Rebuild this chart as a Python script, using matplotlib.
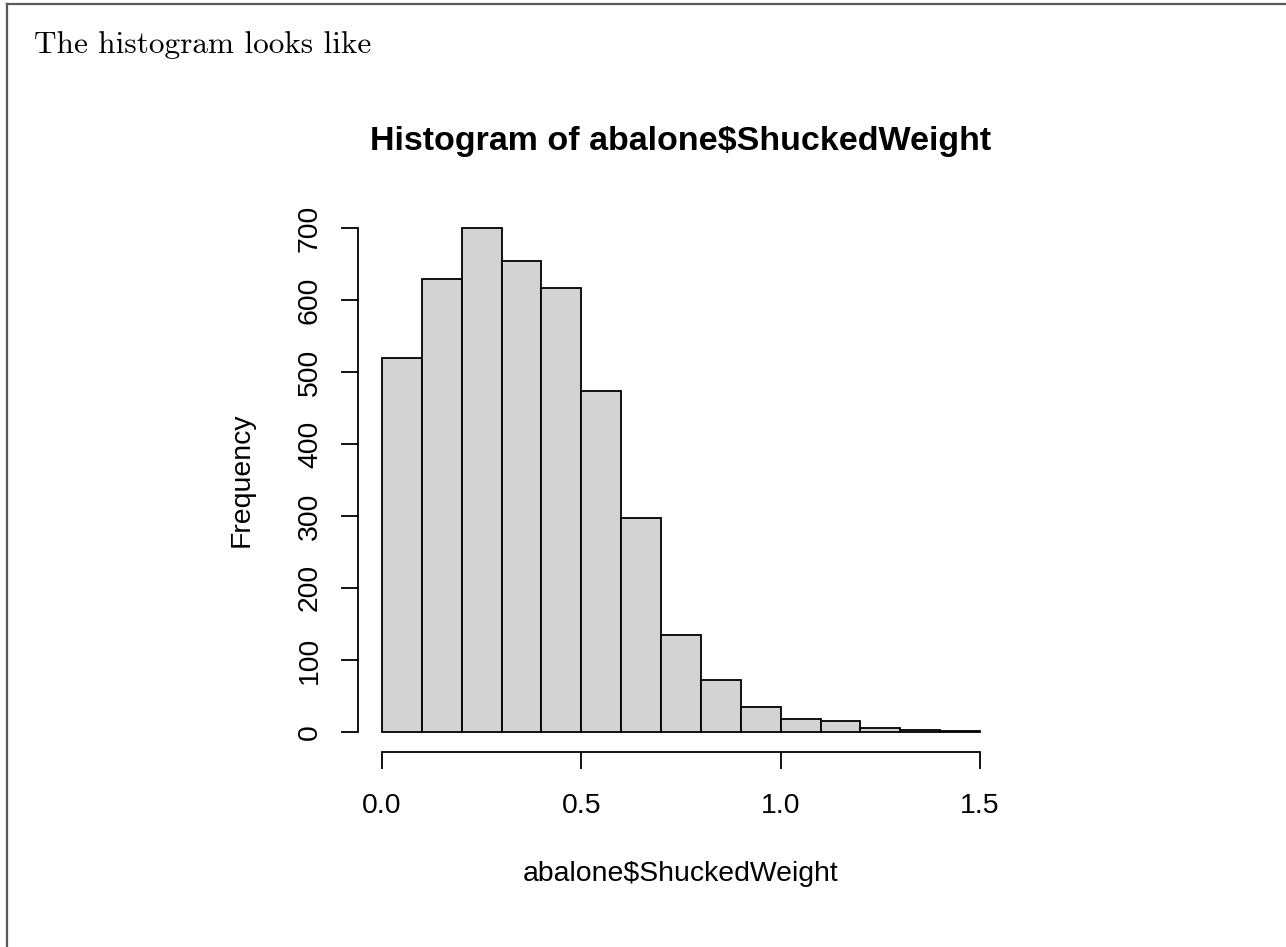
# Histogram of abalone shucked weight, drawn the way base R's hist() looks

import numpy as np
import matplotlib.pyplot as plt
from matplotlib.lines import Line2D

# bin edges and counts
breaks = np.round(np.arange(0, 1.51, 0.1), 2)
counts = [520, 630, 700, 655, 617, 474, 297, 135, 72, 34, 18, 15, 5, 2, 1]
x_ticks = [0.0, 0.5, 1.0, 1.5]
x_tick_labels = ["0.0", "0.5", "1.0", "1.5"]
y_ticks = [0, 100, 200, 300, 400, 500, 600, 700]

W, H = 1286, 947
fig = plt.figure(figsize=(W / 100, H / 100), dpi=100)

# plot region in pixels (R-like margins)
left, right, top, bottom = 358, 1004, 208, 752
ax = fig.add_axes([left / W, 1 - bottom / H, (right - left) / W, (bottom - top) / H])

ax.bar(breaks[:-1], counts, width=0.1, align="edge",
       color="#D3D3D3", edgecolor="black", linewidth=1.3)

ax.set_xlim(-0.06, 1.56)
ax.set_ylim(-28, 728)

for s in ["top", "right"]:
    ax.spines[s].set_visible(False)
ax.spines["left"].set_bounds(0, 700)
ax.spines["bottom"].set_bounds(0, 1.5)
ax.spines["left"].set_linewidth(1.3)
ax.spines["bottom"].set_linewidth(1.3)

font = "Liberation Sans"
ax.set_xticks(x_ticks)
ax.set_xticklabels(x_tick_labels, fontsize=20.4, family=font)
ax.set_yticks(y_ticks)
ax.set_yticklabels([str(v) for v in y_ticks], fontsize=20.4, family=font,
                   rotation=90, va="center")
ax.tick_params(axis="x", length=12.2, width=1.3, pad=17)
ax.tick_params(axis="y", length=12.2, width=1.3, pad=13)

ax.set_xlabel("abalone$ShuckedWeight", fontsize=20.4, family=font, va="center")
ax.xaxis.set_label_coords(0.5, -(874 - bottom) / (bottom - top))
ax.set_ylabel("Frequency", fontsize=20.4, family=font, va="center")
ax.yaxis.set_label_coords(-(left - 242) / (right - left), 0.5)

ax.set_title("Histogram of abalone$ShuckedWeight", fontsize=24.5, family=font,
             fontweight="bold", y=1 + (top - 141.5) / (bottom - top), pad=0,
             va="center")

# text above the chart and the page frame
fig.text(34 / W, 1 - 53 / H, "The histogram looks like", fontsize=22.5,
         family="cmr10", va="baseline", ha="left")
fig.add_artist(Line2D([7 / W, 1], [1 - 4.5 / H, 1 - 4.5 / H], color="#5a5a5a",
                      linewidth=1.6, transform=fig.transFigure))
fig.add_artist(Line2D([7 / W, 7 / W], [0, 1 - 4.5 / H], color="#5a5a5a",
                      linewidth=1.6, transform=fig.transFigure))

fig.savefig("out.png", dpi=100)
